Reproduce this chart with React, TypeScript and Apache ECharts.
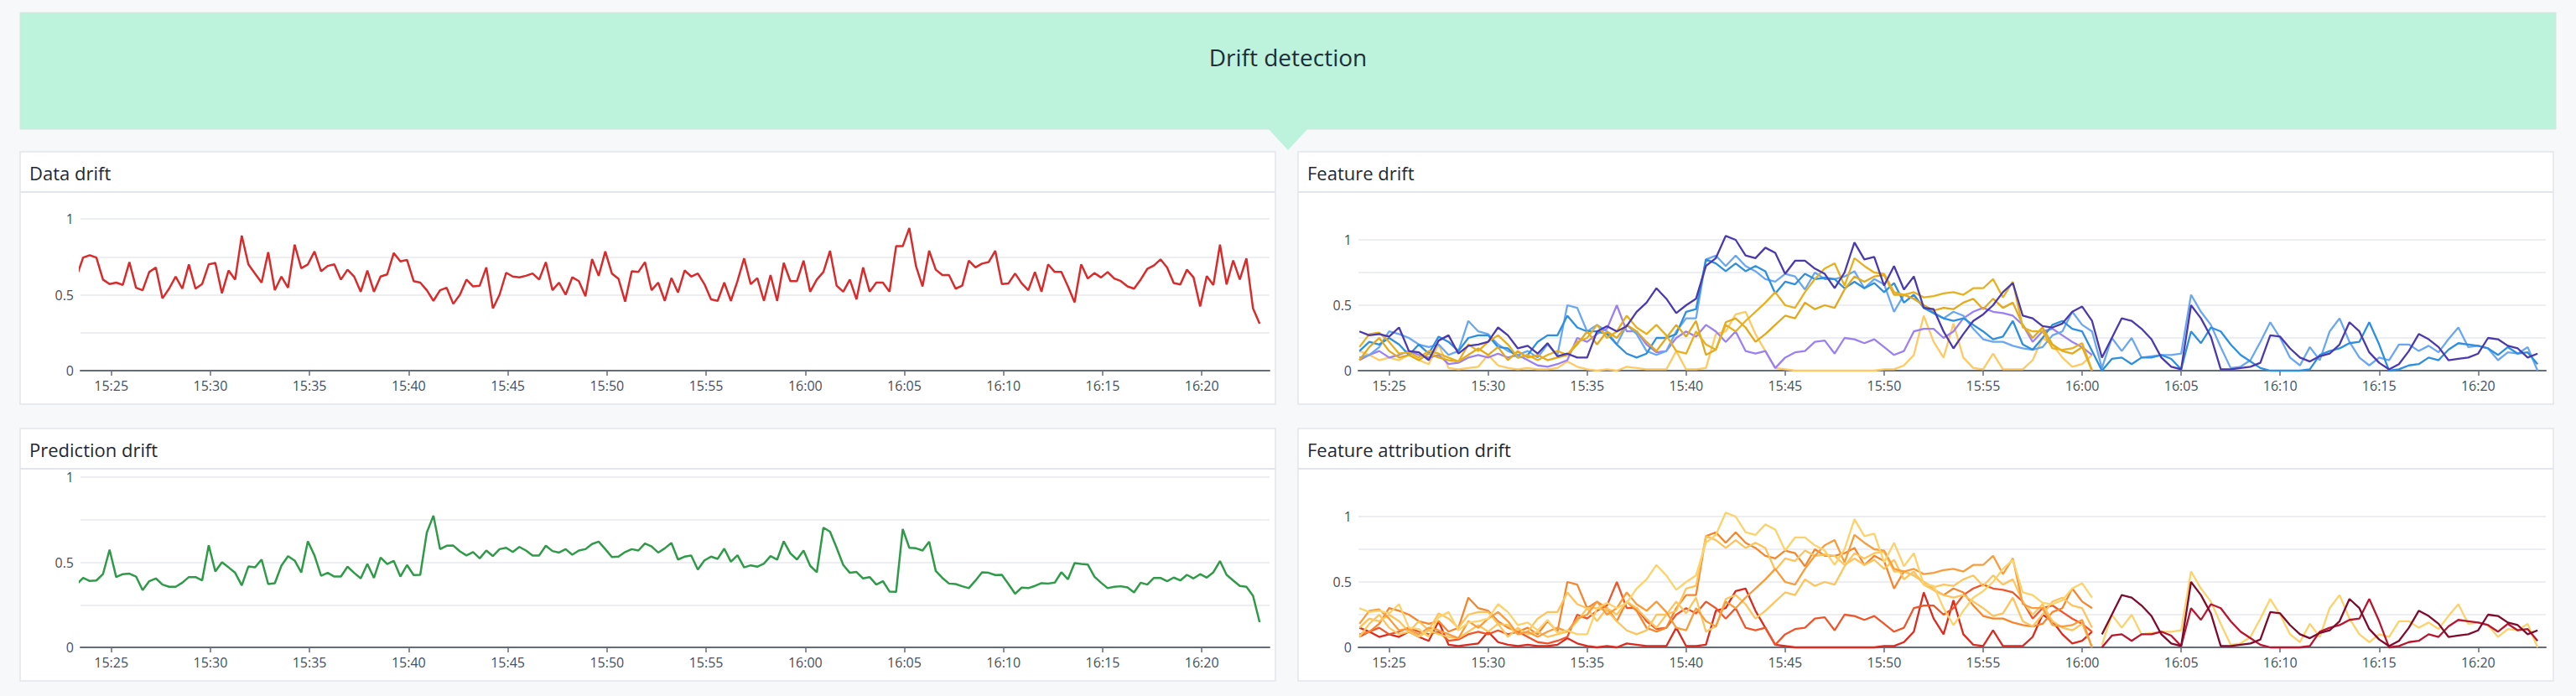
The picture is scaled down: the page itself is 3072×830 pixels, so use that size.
import React, { useEffect, useRef } from "react";
import * as echarts from "echarts";

// ---------- data ----------
// time helpers (local time)
const T = (h: number, m: number, s: number) => new Date(2024, 0, 15, h, m, s).getTime();
const X_MIN = T(15, 23, 27);
const X_MAX = T(16, 23, 25);

const timeTickLabels = ["15:25", "15:30", "15:35", "15:40", "15:45", "15:50", "15:55", "16:00", "16:05", "16:10", "16:15", "16:20"];

// Data drift & prediction drift: one value every 20 s starting at 15:23:15
const singleStart = T(15, 23, 15);
const singleStepSec = 20;

const dataDrift = [
  0.62,
  0.745, 0.76, 0.745, 0.60, 0.57, 0.58, 0.565, 0.715, 0.546, 0.53,
  0.65, 0.68, 0.476, 0.54, 0.62, 0.54, 0.70, 0.54, 0.57, 0.70,
  0.71, 0.51, 0.66, 0.60, 0.89, 0.70, 0.64, 0.58, 0.78, 0.53,
  0.62, 0.546, 0.83, 0.675, 0.70, 0.785, 0.655, 0.69, 0.70, 0.60,
  0.665, 0.62, 0.52, 0.66, 0.52, 0.62, 0.634, 0.775, 0.72, 0.73,
  0.59, 0.58, 0.53, 0.46, 0.53, 0.546, 0.44, 0.50, 0.60, 0.555,
  0.56, 0.68, 0.41, 0.50, 0.645, 0.62, 0.615, 0.625, 0.64, 0.60,
  0.715, 0.53, 0.58, 0.50, 0.615, 0.59, 0.49, 0.735, 0.625, 0.785,
  0.64, 0.605, 0.455, 0.655, 0.65, 0.715, 0.53, 0.58, 0.46, 0.61,
  0.515, 0.66, 0.62, 0.64, 0.57, 0.47, 0.46, 0.58, 0.46, 0.59,
  0.74, 0.57, 0.61, 0.46, 0.63, 0.46, 0.71, 0.59, 0.59, 0.725,
  0.52, 0.60, 0.65, 0.79, 0.56, 0.52, 0.60, 0.47, 0.68, 0.52,
  0.58, 0.58, 0.52, 0.82, 0.82, 0.94, 0.69, 0.555, 0.79, 0.665,
  0.63, 0.63, 0.54, 0.56, 0.725, 0.68, 0.705, 0.715, 0.79, 0.57,
  0.575, 0.64, 0.575, 0.53, 0.65, 0.52, 0.70, 0.65, 0.65, 0.555,
  0.45, 0.70, 0.607, 0.643, 0.614, 0.65, 0.607, 0.59, 0.555, 0.54,
  0.60, 0.67, 0.693, 0.733, 0.68, 0.577, 0.568, 0.665, 0.614, 0.423,
  0.623, 0.564, 0.83, 0.568, 0.726, 0.60, 0.74, 0.41, 0.31,
];

const predictionDrift = [
  0.37,
  0.408, 0.39, 0.393, 0.43, 0.574, 0.413, 0.43, 0.433, 0.416, 0.336,
  0.389, 0.405, 0.369, 0.356, 0.356, 0.38, 0.413, 0.413, 0.393, 0.60,
  0.446, 0.50, 0.47, 0.438, 0.364, 0.475, 0.47, 0.516, 0.372, 0.377,
  0.48, 0.536, 0.51, 0.44, 0.623, 0.54, 0.42, 0.438, 0.416, 0.416,
  0.474, 0.438, 0.405, 0.49, 0.408, 0.528, 0.49, 0.508, 0.416, 0.484,
  0.425, 0.426, 0.675, 0.774, 0.577, 0.597, 0.598, 0.564, 0.54, 0.56,
  0.523, 0.569, 0.536, 0.577, 0.585, 0.56, 0.59, 0.569, 0.54, 0.54,
  0.597, 0.566, 0.557, 0.577, 0.544, 0.569, 0.577, 0.607, 0.621, 0.577,
  0.531, 0.533, 0.56, 0.577, 0.569, 0.61, 0.593, 0.557, 0.582, 0.613,
  0.516, 0.533, 0.539, 0.457, 0.511, 0.533, 0.52, 0.58, 0.503, 0.541,
  0.47, 0.482, 0.474, 0.492, 0.536, 0.515, 0.623, 0.552, 0.516, 0.569,
  0.479, 0.441, 0.703, 0.68, 0.585, 0.484, 0.438, 0.443, 0.405, 0.413,
  0.369, 0.389, 0.328, 0.326, 0.695, 0.585, 0.582, 0.569, 0.621, 0.449,
  0.408, 0.375, 0.372, 0.359, 0.348, 0.392, 0.441, 0.438, 0.425, 0.426,
  0.372, 0.315, 0.351, 0.348, 0.361, 0.377, 0.375, 0.38, 0.441, 0.40,
  0.495, 0.49, 0.487, 0.416, 0.38, 0.348, 0.356, 0.359, 0.352, 0.323,
  0.38, 0.369, 0.408, 0.408, 0.389, 0.41, 0.393, 0.426, 0.405, 0.43,
  0.41, 0.441, 0.507, 0.426, 0.393, 0.361, 0.356, 0.303, 0.148,
];

// Feature series: one value every 30 s starting at 15:23:30
const featStart = T(15, 23, 30);
const featStepSec = 30;
const featSplit = 75; // index of 16:01:00

const featureA = [ // runs across the whole hour
  0.30, 0.27, 0.28, 0.26, 0.33, 0.15, 0.14, 0.08, 0.23, 0.27,
  0.13, 0.19, 0.20, 0.22, 0.33, 0.27, 0.17, 0.19, 0.13, 0.21,
  0.11, 0.13, 0.10, 0.10, 0.30, 0.34, 0.30, 0.34, 0.45, 0.52,
  0.63, 0.55, 0.44, 0.50, 0.55, 0.80, 0.86, 1.03, 1.00, 0.88,
  0.86, 0.94, 0.90, 0.74, 0.84, 0.84, 0.78, 0.74, 0.63, 0.75,
  0.98, 0.85, 0.87, 0.65, 0.80, 0.62, 0.72, 0.48, 0.47, 0.30,
  0.17, 0.28, 0.38, 0.43, 0.50, 0.60, 0.67, 0.42, 0.40, 0.34,
  0.33, 0.36, 0.45, 0.49, 0.38, 0.10, 0.25, 0.40, 0.38, 0.32,
  0.24, 0.10, 0.03, 0.01, 0.50, 0.40, 0.26, 0.01, 0.01, 0.02,
  0.03, 0.06, 0.27, 0.26, 0.17, 0.10, 0.07, 0.11, 0.13, 0.20,
  0.37, 0.30, 0.14, 0.06, 0.01, 0.05, 0.15, 0.28, 0.24, 0.18,
  0.08, 0.09, 0.10, 0.13, 0.25, 0.24, 0.19, 0.17, 0.10, 0.13,
];

const featureB = [
  0.15, 0.22, 0.20, 0.25, 0.20, 0.12, 0.20, 0.13, 0.26, 0.22,
  0.15, 0.25, 0.27, 0.27, 0.18, 0.17, 0.10, 0.12, 0.22, 0.27,
  0.27, 0.42, 0.33, 0.30, 0.30, 0.28, 0.20, 0.13, 0.10, 0.13,
  0.25, 0.25, 0.28, 0.45, 0.47, 0.85, 0.82, 0.76, 0.82, 0.76,
  0.80, 0.76, 0.59, 0.68, 0.66, 0.74, 0.70, 0.71, 0.70, 0.63,
  0.68, 0.63, 0.67, 0.60, 0.67, 0.52, 0.58, 0.48, 0.44, 0.40,
  0.38, 0.40, 0.35, 0.30, 0.24, 0.26, 0.38, 0.20, 0.16, 0.25,
  0.35, 0.38, 0.32, 0.30, 0.15, 0.00, 0.09, 0.10, 0.05, 0.10,
  0.10, 0.12, 0.09, 0.01, 0.30, 0.21, 0.33, 0.30, 0.20, 0.12,
  0.07, 0.02, 0.00, 0.00, 0.00, 0.00, 0.01, 0.12, 0.15, 0.17,
  0.21, 0.22, 0.37, 0.20, 0.00, 0.01, 0.04, 0.05, 0.10, 0.08,
  0.16, 0.21, 0.20, 0.19, 0.17, 0.12, 0.18, 0.13, 0.14, 0.05,
];

const featureC = [
  0.10, 0.12, 0.18, 0.30, 0.28, 0.25, 0.20, 0.18, 0.20, 0.12,
  0.15, 0.38, 0.30, 0.28, 0.20, 0.15, 0.12, 0.15, 0.10, 0.20,
  0.12, 0.50, 0.48, 0.30, 0.35, 0.30, 0.20, 0.35, 0.28, 0.15,
  0.12, 0.15, 0.30, 0.40, 0.40, 0.85, 0.88, 0.80, 0.88, 0.80,
  0.76, 0.70, 0.68, 0.74, 0.72, 0.62, 0.75, 0.70, 0.70, 0.72,
  0.76, 0.63, 0.70, 0.66, 0.45, 0.58, 0.55, 0.50, 0.44, 0.40,
  0.45, 0.42, 0.32, 0.24, 0.22, 0.22, 0.19, 0.17, 0.16, 0.18,
  0.27, 0.30, 0.45, 0.35, 0.30, 0.02, 0.25, 0.15, 0.25, 0.10,
  0.11, 0.12, 0.12, 0.13, 0.58, 0.45, 0.35, 0.18, 0.02, 0.03,
  0.08, 0.22, 0.37, 0.25, 0.10, 0.04, 0.18, 0.08, 0.30, 0.40,
  0.22, 0.10, 0.04, 0.10, 0.08, 0.20, 0.20, 0.15, 0.19, 0.14,
  0.24, 0.33, 0.18, 0.19, 0.17, 0.08, 0.14, 0.13, 0.18, 0.00,
];

const featureD = [ // ends at 16:00:30
  0.08, 0.12, 0.15, 0.10, 0.12, 0.15, 0.12, 0.10, 0.12, 0.05,
  0.06, 0.10, 0.12, 0.10, 0.13, 0.10, 0.12, 0.08, 0.04, 0.03,
  0.05, 0.08, 0.25, 0.22, 0.28, 0.32, 0.50, 0.30, 0.30, 0.20,
  0.14, 0.15, 0.25, 0.30, 0.26, 0.35, 0.30, 0.22, 0.30, 0.15,
  0.13, 0.15, 0.02, 0.10, 0.14, 0.15, 0.22, 0.23, 0.13, 0.25,
  0.24, 0.21, 0.24, 0.18, 0.12, 0.15, 0.30, 0.32, 0.32, 0.25,
  0.30, 0.40, 0.45, 0.48, 0.45, 0.44, 0.42, 0.35, 0.22, 0.30,
  0.32, 0.27, 0.22, 0.18, 0.12,
];

const featureE = [
  0.18, 0.28, 0.29, 0.22, 0.13, 0.14, 0.10, 0.15, 0.13, 0.10,
  0.07, 0.20, 0.15, 0.22, 0.27, 0.20, 0.10, 0.12, 0.08, 0.12,
  0.15, 0.12, 0.22, 0.25, 0.35, 0.25, 0.30, 0.42, 0.33, 0.28,
  0.35, 0.27, 0.15, 0.13, 0.30, 0.20, 0.16, 0.35, 0.30, 0.38,
  0.45, 0.52, 0.60, 0.50, 0.48, 0.60, 0.70, 0.78, 0.82, 0.65,
  0.86, 0.80, 0.75, 0.74, 0.60, 0.58, 0.60, 0.56, 0.57, 0.59,
  0.60, 0.58, 0.63, 0.63, 0.70, 0.56, 0.68, 0.33, 0.30, 0.30,
  0.17, 0.16, 0.17, 0.21, 0.00,
];

const featureF = [
  0.08, 0.18, 0.25, 0.15, 0.10, 0.12, 0.08, 0.13, 0.10, 0.08,
  0.07, 0.12, 0.17, 0.12, 0.18, 0.08, 0.15, 0.10, 0.12, 0.08,
  0.10, 0.12, 0.20, 0.30, 0.20, 0.30, 0.25, 0.35, 0.30, 0.22,
  0.15, 0.25, 0.35, 0.26, 0.38, 0.12, 0.16, 0.37, 0.40, 0.33,
  0.22, 0.28, 0.35, 0.42, 0.40, 0.52, 0.47, 0.50, 0.48, 0.62,
  0.72, 0.68, 0.72, 0.73, 0.58, 0.58, 0.55, 0.50, 0.46, 0.48,
  0.47, 0.52, 0.55, 0.47, 0.55, 0.48, 0.52, 0.35, 0.25, 0.33,
  0.20, 0.15, 0.13, 0.18, 0.00,
];

const featureG = [
  0.15, 0.12, 0.08, 0.10, 0.08, 0.12, 0.08, 0.05, 0.20, 0.02,
  0.01, 0.02, 0.03, 0.12, 0.04, 0.02, 0.01, 0.02, 0.01, 0.01,
  0.02, 0.07, 0.03, 0.01, 0.00, 0.01, 0.00, 0.03, 0.02, 0.01,
  0.01, 0.01, 0.15, 0.01, 0.01, 0.02, 0.28, 0.30, 0.43, 0.45,
  0.28, 0.15, 0.02, 0.01, 0.00, 0.00, 0.00, 0.00, 0.00, 0.00,
  0.00, 0.00, 0.00, 0.01, 0.01, 0.04, 0.12, 0.42, 0.22, 0.10,
  0.36, 0.10, 0.02, 0.01, 0.13, 0.01, 0.01, 0.01, 0.08, 0.25,
  0.20, 0.10, 0.03, 0.05, 0.12,
];

// ---------- styling ----------
const FONT = "Open Sans";
const featureDriftColors: Record<string, string> = {
  A: "#4b39ae", B: "#2d8fe0", C: "#6aa7f3", D: "#9b80f3", E: "#e8b01f", F: "#e3a91a", G: "#fdca63",
};
const attributionPreColors: Record<string, string> = {
  A: "#fdd26b", B: "#fec35a", C: "#f5862d", D: "#f0552a", E: "#f99c3b", F: "#fdc55e", G: "#dc2a1f",
};
const attributionPostColors: Record<string, string> = { A: "#7e0b2b", B: "#b8152f", C: "#fdd26b" };

const pad = (n: number) => (n < 10 ? "0" + n : "" + n);
const fmtTime = (v: number) => {
  const d = new Date(v);
  return pad(d.getHours()) + ":" + pad(d.getMinutes());
};
const tickTimes = timeTickLabels.map((s) => {
  const [h, m] = s.split(":").map(Number);
  return T(h, m, 0);
});

const toPairs = (start: number, stepSec: number, arr: number[], offset = 0) =>
  arr.map((v, i) => [start + (i + offset) * stepSec * 1000, v]);

function buildOption() {
  const grids = [
    { left: 96, right: 1558, top: 261, bottom: 388 },
    { left: 96, right: 1558, top: 569, bottom: 58 },
    { left: 1620, right: 36, top: 286, bottom: 388 },
    { left: 1620, right: 36, top: 616, bottom: 58 },
  ].map((g) => ({ ...g, containLabel: false }));

  const xAxes = grids.map((_, k) => ({
    type: "value",
    gridIndex: k,
    min: X_MIN,
    max: X_MAX,
    scale: true,
    axisLine: { show: true, onZero: false, lineStyle: { color: "#636b7c", width: 2 } },
    axisTick: { show: true, length: 6, lineStyle: { color: "#636b7c", width: 1.5 }, customValues: tickTimes },
    axisLabel: {
      customValues: tickTimes,
      formatter: (v: number) => fmtTime(v),
      color: "#474f5c",
      fontSize: 16,
      fontFamily: FONT,
      margin: 10,
      hideOverlap: false,
      showMinLabel: true,
      showMaxLabel: true,
    },
    splitLine: { show: false },
  }));

  const yAxes = grids.map((_, k) => ({
    type: "value",
    gridIndex: k,
    min: 0,
    max: 1,
    interval: 0.25,
    axisLine: { show: false },
    axisTick: { show: false },
    axisLabel: {
      formatter: (v: number) => (v === 0.25 || v === 0.75 ? "" : String(v)),
      color: "#474f5c",
      fontSize: 16,
      fontFamily: FONT,
      margin: 8,
    },
    splitLine: { show: true, lineStyle: { color: "#eceef1", width: 2 } },
  }));

  const line = (name: string, k: number, data: any[], color: string, clip = true, width = 2.5) => ({
    name,
    type: "line",
    xAxisIndex: k,
    yAxisIndex: k,
    data,
    showSymbol: false,
    symbol: "none",
    clip,
    silent: true,
    lineStyle: { color, width },
    itemStyle: { color },
    emphasis: { disabled: true },
  });

  const series: any[] = [];
  series.push(line("Data drift", 0, toPairs(singleStart, singleStepSec, dataDrift), "#d92b2b"));
  series.push(line("Prediction drift", 1, toPairs(singleStart, singleStepSec, predictionDrift), "#2f9a48"));

  const feats: [string, number[]][] = [
    ["G", featureG], ["D", featureD], ["C", featureC], ["B", featureB], ["F", featureF], ["E", featureE], ["A", featureA],
  ];
  feats.forEach(([key, arr]) => {
    series.push(line("feature " + key, 2, toPairs(featStart, featStepSec, arr), featureDriftColors[key], false, 2.3));
  });
  feats.forEach(([key, arr]) => {
    const pre = arr.slice(0, featSplit);
    series.push(line("attribution " + key, 3, toPairs(featStart, featStepSec, pre), attributionPreColors[key], false, 2.3));
  });
  ["C", "B", "A"].forEach((key) => {
    const arr = key === "A" ? featureA : key === "B" ? featureB : featureC;
    const post = arr.slice(featSplit);
    series.push(line("attribution post " + key, 3, toPairs(featStart, featStepSec, post, featSplit), attributionPostColors[key], false, 2.3));
  });

  const panel = (x: number, y: number, w: number, h: number, headerH: number, title: string) => [
    { type: "rect", z: -10, shape: { x, y, width: w, height: h }, style: { fill: "#ffffff", stroke: "#e2e5ec", lineWidth: 1.5 } },
    { type: "line", z: -9, shape: { x1: x, y1: y + headerH, x2: x + w, y2: y + headerH }, style: { stroke: "#e2e5ec", lineWidth: 2 } },
    {
      type: "text",
      z: 10,
      x: x + 11,
      y: y + 25,
      style: {
        text: title, fill: "#1f2933", fontSize: 22, fontFamily: FONT,
        textAlign: "left", textVerticalAlign: "middle", align: "left", verticalAlign: "middle",
      },
    },
  ];

  const graphic: any[] = [
    { type: "rect", z: -10, shape: { x: 24, y: 15, width: 3024, height: 139 }, style: { fill: "#bdf2dc", stroke: "#d6e4df", lineWidth: 1 } },
    { type: "polygon", z: -9, shape: { points: [[1512, 153], [1560, 153], [1536, 179]] }, style: { fill: "#bdf2dc" } },
    {
      type: "text",
      z: 10,
      x: 1536,
      y: 68,
      style: {
        text: "Drift detection", fill: "#1f2d36", fontSize: 28, fontFamily: FONT,
        textAlign: "center", textVerticalAlign: "middle", align: "center", verticalAlign: "middle",
      },
    },
    ...panel(24, 181, 1497, 301, 48, "Data drift"),
    ...panel(1548, 181, 1497, 301, 48, "Feature drift"),
    ...panel(24, 511, 1497, 301, 48, "Prediction drift"),
    ...panel(1548, 511, 1497, 301, 48, "Feature attribution drift"),
  ];

  return {
    animation: false,
    backgroundColor: "#f7f8fa",
    textStyle: { fontFamily: FONT },
    grid: grids,
    xAxis: xAxes,
    yAxis: yAxes,
    series,
    graphic: { elements: graphic },
  };
}

export default function App() {
  const ref = useRef<HTMLDivElement>(null);
  useEffect(() => {
    if (!ref.current) return;
    const chart = echarts.init(ref.current, null, { renderer: "svg", width: 3072, height: 830 });
    chart.setOption(buildOption() as any);
    return () => chart.dispose();
  }, []);
  return (
    <div style={{ position: "fixed", left: 0, top: 0, width: 3072, height: 830, background: "#f7f8fa" }}>
      <div ref={ref} style={{ width: 3072, height: 830 }} />
    </div>
  );
}
